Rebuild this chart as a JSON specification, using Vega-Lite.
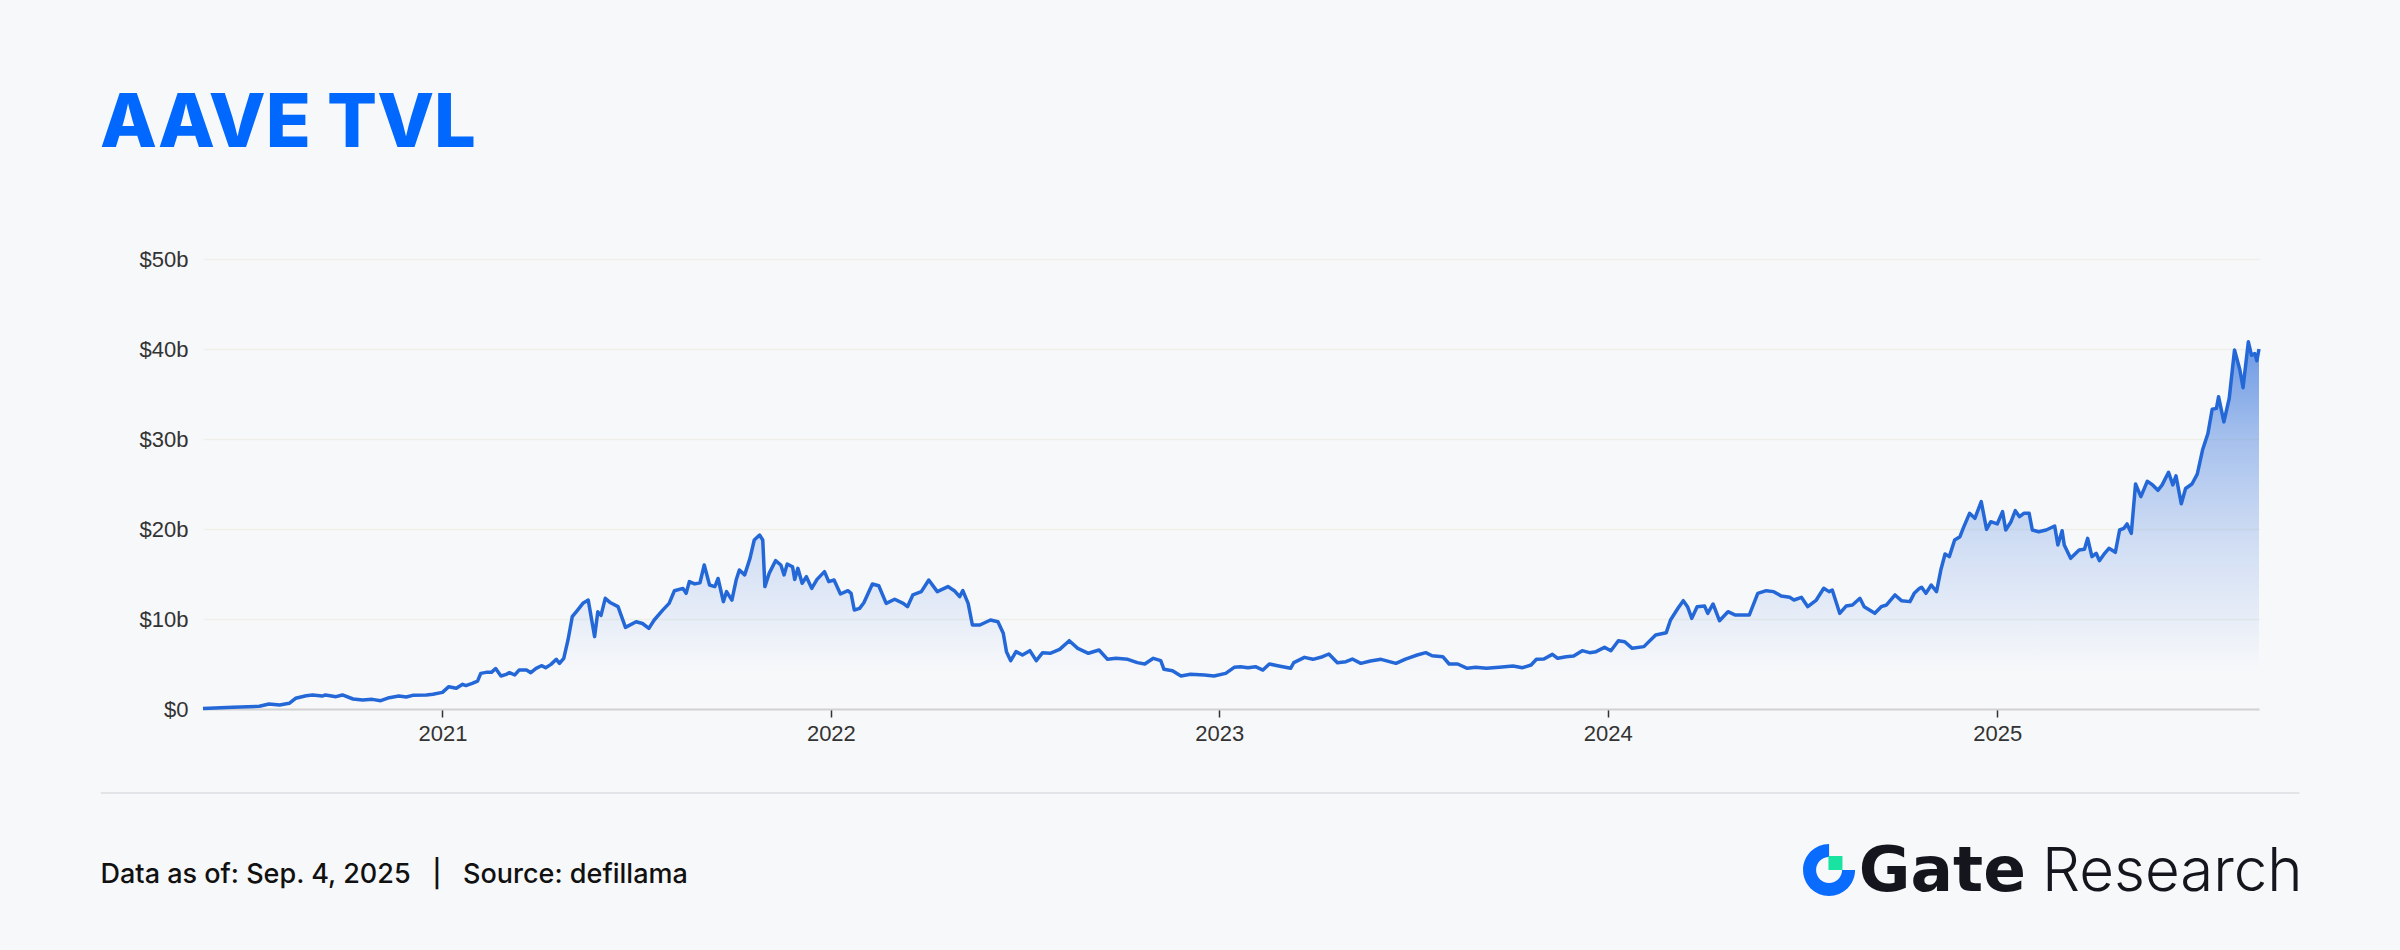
{
  "$schema": "https://vega.github.io/schema/vega-lite/v6.json",
  "width": 2056,
  "height": 450,
  "autosize": {"type": "none"},
  "padding": {"left": 203, "top": 259, "right": 141, "bottom": 241},
  "background": "#F7F8FA",
  "config": {"view": {"stroke": null}, "font": "Inter"},
  "title": {
    "text": "AAVE TVL",
    "anchor": "start",
    "frame": "group",
    "dx": -103,
    "offset": 27,
    "baseline": "alphabetic",
    "font": "Inter",
    "fontSize": 74,
    "fontWeight": 800,
    "color": "#0068FF"
  },
  "data": {
    "values": [
      {"date": "2020-05-21", "tvl": 0.05},
      {"date": "2020-06-18", "tvl": 0.2},
      {"date": "2020-07-13", "tvl": 0.3},
      {"date": "2020-07-22", "tvl": 0.56},
      {"date": "2020-08-01", "tvl": 0.45},
      {"date": "2020-08-10", "tvl": 0.63},
      {"date": "2020-08-16", "tvl": 1.19},
      {"date": "2020-08-26", "tvl": 1.48},
      {"date": "2020-09-01", "tvl": 1.56},
      {"date": "2020-09-10", "tvl": 1.44},
      {"date": "2020-09-13", "tvl": 1.56},
      {"date": "2020-09-23", "tvl": 1.37},
      {"date": "2020-09-29", "tvl": 1.56},
      {"date": "2020-10-09", "tvl": 1.11},
      {"date": "2020-10-18", "tvl": 1.0},
      {"date": "2020-10-27", "tvl": 1.07},
      {"date": "2020-11-04", "tvl": 0.92},
      {"date": "2020-11-12", "tvl": 1.26},
      {"date": "2020-11-21", "tvl": 1.44},
      {"date": "2020-11-28", "tvl": 1.33},
      {"date": "2020-12-04", "tvl": 1.52},
      {"date": "2020-12-17", "tvl": 1.56},
      {"date": "2020-12-23", "tvl": 1.63},
      {"date": "2021-01-01", "tvl": 1.85},
      {"date": "2021-01-07", "tvl": 2.48},
      {"date": "2021-01-14", "tvl": 2.3},
      {"date": "2021-01-20", "tvl": 2.74},
      {"date": "2021-01-23", "tvl": 2.6},
      {"date": "2021-01-29", "tvl": 2.85},
      {"date": "2021-02-03", "tvl": 3.1},
      {"date": "2021-02-06", "tvl": 3.96},
      {"date": "2021-02-11", "tvl": 4.07},
      {"date": "2021-02-16", "tvl": 4.07},
      {"date": "2021-02-20", "tvl": 4.5},
      {"date": "2021-02-25", "tvl": 3.67},
      {"date": "2021-03-02", "tvl": 3.85},
      {"date": "2021-03-05", "tvl": 4.04},
      {"date": "2021-03-10", "tvl": 3.78},
      {"date": "2021-03-14", "tvl": 4.33},
      {"date": "2021-03-21", "tvl": 4.33},
      {"date": "2021-03-25", "tvl": 4.04},
      {"date": "2021-03-30", "tvl": 4.52},
      {"date": "2021-04-04", "tvl": 4.81},
      {"date": "2021-04-08", "tvl": 4.59},
      {"date": "2021-04-13", "tvl": 4.96},
      {"date": "2021-04-18", "tvl": 5.52},
      {"date": "2021-04-21", "tvl": 5.07},
      {"date": "2021-04-25", "tvl": 5.63},
      {"date": "2021-04-29", "tvl": 7.67},
      {"date": "2021-05-03", "tvl": 10.26},
      {"date": "2021-05-08", "tvl": 10.99},
      {"date": "2021-05-13", "tvl": 11.74},
      {"date": "2021-05-18", "tvl": 12.1},
      {"date": "2021-05-24", "tvl": 8.04},
      {"date": "2021-05-27", "tvl": 10.8},
      {"date": "2021-05-30", "tvl": 10.4},
      {"date": "2021-06-03", "tvl": 12.3},
      {"date": "2021-06-08", "tvl": 11.8},
      {"date": "2021-06-15", "tvl": 11.37},
      {"date": "2021-06-22", "tvl": 9.07},
      {"date": "2021-07-02", "tvl": 9.7},
      {"date": "2021-07-08", "tvl": 9.5},
      {"date": "2021-07-14", "tvl": 8.96},
      {"date": "2021-07-19", "tvl": 9.89},
      {"date": "2021-07-27", "tvl": 10.99},
      {"date": "2021-08-02", "tvl": 11.74},
      {"date": "2021-08-07", "tvl": 13.14},
      {"date": "2021-08-15", "tvl": 13.4},
      {"date": "2021-08-18", "tvl": 12.85},
      {"date": "2021-08-21", "tvl": 14.15},
      {"date": "2021-08-26", "tvl": 13.9},
      {"date": "2021-08-31", "tvl": 14.03},
      {"date": "2021-09-04", "tvl": 16.0},
      {"date": "2021-09-09", "tvl": 13.78},
      {"date": "2021-09-14", "tvl": 13.6},
      {"date": "2021-09-17", "tvl": 14.5},
      {"date": "2021-09-22", "tvl": 11.93},
      {"date": "2021-09-25", "tvl": 13.04},
      {"date": "2021-09-30", "tvl": 12.1},
      {"date": "2021-10-04", "tvl": 14.33},
      {"date": "2021-10-07", "tvl": 15.44},
      {"date": "2021-10-12", "tvl": 14.9},
      {"date": "2021-10-17", "tvl": 16.74},
      {"date": "2021-10-21", "tvl": 18.78},
      {"date": "2021-10-26", "tvl": 19.33},
      {"date": "2021-10-29", "tvl": 18.78},
      {"date": "2021-10-31", "tvl": 13.6},
      {"date": "2021-11-04", "tvl": 15.07},
      {"date": "2021-11-10", "tvl": 16.48},
      {"date": "2021-11-15", "tvl": 16.0},
      {"date": "2021-11-18", "tvl": 14.9},
      {"date": "2021-11-21", "tvl": 16.1},
      {"date": "2021-11-26", "tvl": 15.8},
      {"date": "2021-11-28", "tvl": 14.4},
      {"date": "2021-12-01", "tvl": 15.63},
      {"date": "2021-12-05", "tvl": 13.97},
      {"date": "2021-12-09", "tvl": 14.7},
      {"date": "2021-12-14", "tvl": 13.4},
      {"date": "2021-12-19", "tvl": 14.4},
      {"date": "2021-12-26", "tvl": 15.26},
      {"date": "2021-12-30", "tvl": 14.15},
      {"date": "2022-01-04", "tvl": 14.33},
      {"date": "2022-01-10", "tvl": 12.78},
      {"date": "2022-01-17", "tvl": 13.15},
      {"date": "2022-01-20", "tvl": 12.85},
      {"date": "2022-01-23", "tvl": 11.0},
      {"date": "2022-01-28", "tvl": 11.18},
      {"date": "2022-02-01", "tvl": 11.81},
      {"date": "2022-02-09", "tvl": 13.89},
      {"date": "2022-02-15", "tvl": 13.7},
      {"date": "2022-02-22", "tvl": 11.74},
      {"date": "2022-03-02", "tvl": 12.19},
      {"date": "2022-03-10", "tvl": 11.74},
      {"date": "2022-03-14", "tvl": 11.37},
      {"date": "2022-03-19", "tvl": 12.67},
      {"date": "2022-03-27", "tvl": 13.04},
      {"date": "2022-04-03", "tvl": 14.33},
      {"date": "2022-04-11", "tvl": 13.04},
      {"date": "2022-04-21", "tvl": 13.6},
      {"date": "2022-04-27", "tvl": 13.15},
      {"date": "2022-05-02", "tvl": 12.48},
      {"date": "2022-05-05", "tvl": 13.15},
      {"date": "2022-05-10", "tvl": 11.74},
      {"date": "2022-05-14", "tvl": 9.33},
      {"date": "2022-05-21", "tvl": 9.33},
      {"date": "2022-05-31", "tvl": 9.89},
      {"date": "2022-06-07", "tvl": 9.7},
      {"date": "2022-06-12", "tvl": 8.41},
      {"date": "2022-06-15", "tvl": 6.37},
      {"date": "2022-06-19", "tvl": 5.37},
      {"date": "2022-06-24", "tvl": 6.37},
      {"date": "2022-06-30", "tvl": 6.0},
      {"date": "2022-07-07", "tvl": 6.48},
      {"date": "2022-07-13", "tvl": 5.37},
      {"date": "2022-07-19", "tvl": 6.26},
      {"date": "2022-07-26", "tvl": 6.19},
      {"date": "2022-08-04", "tvl": 6.63},
      {"date": "2022-08-13", "tvl": 7.59},
      {"date": "2022-08-21", "tvl": 6.74},
      {"date": "2022-08-31", "tvl": 6.19},
      {"date": "2022-09-10", "tvl": 6.56},
      {"date": "2022-09-18", "tvl": 5.52},
      {"date": "2022-09-26", "tvl": 5.63},
      {"date": "2022-10-07", "tvl": 5.52},
      {"date": "2022-10-16", "tvl": 5.15},
      {"date": "2022-10-23", "tvl": 5.0},
      {"date": "2022-10-31", "tvl": 5.63},
      {"date": "2022-11-07", "tvl": 5.37},
      {"date": "2022-11-10", "tvl": 4.41},
      {"date": "2022-11-18", "tvl": 4.26},
      {"date": "2022-11-26", "tvl": 3.67},
      {"date": "2022-12-05", "tvl": 3.85},
      {"date": "2022-12-18", "tvl": 3.78},
      {"date": "2022-12-27", "tvl": 3.67},
      {"date": "2023-01-07", "tvl": 3.96},
      {"date": "2023-01-15", "tvl": 4.63},
      {"date": "2023-01-21", "tvl": 4.7},
      {"date": "2023-01-28", "tvl": 4.59},
      {"date": "2023-02-04", "tvl": 4.7},
      {"date": "2023-02-11", "tvl": 4.33},
      {"date": "2023-02-17", "tvl": 5.0},
      {"date": "2023-02-26", "tvl": 4.78},
      {"date": "2023-03-09", "tvl": 4.52},
      {"date": "2023-03-12", "tvl": 5.15},
      {"date": "2023-03-22", "tvl": 5.74},
      {"date": "2023-03-30", "tvl": 5.52},
      {"date": "2023-04-08", "tvl": 5.81},
      {"date": "2023-04-14", "tvl": 6.11},
      {"date": "2023-04-22", "tvl": 5.15},
      {"date": "2023-04-30", "tvl": 5.26},
      {"date": "2023-05-06", "tvl": 5.55},
      {"date": "2023-05-14", "tvl": 5.07},
      {"date": "2023-05-23", "tvl": 5.33},
      {"date": "2023-06-02", "tvl": 5.52},
      {"date": "2023-06-16", "tvl": 5.07},
      {"date": "2023-06-25", "tvl": 5.55},
      {"date": "2023-07-06", "tvl": 6.0},
      {"date": "2023-07-14", "tvl": 6.26},
      {"date": "2023-07-20", "tvl": 5.92},
      {"date": "2023-07-30", "tvl": 5.81},
      {"date": "2023-08-05", "tvl": 5.0},
      {"date": "2023-08-13", "tvl": 5.0},
      {"date": "2023-08-22", "tvl": 4.52},
      {"date": "2023-08-30", "tvl": 4.63},
      {"date": "2023-09-09", "tvl": 4.52},
      {"date": "2023-09-21", "tvl": 4.63},
      {"date": "2023-10-04", "tvl": 4.78},
      {"date": "2023-10-13", "tvl": 4.59},
      {"date": "2023-10-21", "tvl": 4.89},
      {"date": "2023-10-26", "tvl": 5.52},
      {"date": "2023-11-02", "tvl": 5.55},
      {"date": "2023-11-10", "tvl": 6.07},
      {"date": "2023-11-15", "tvl": 5.63},
      {"date": "2023-11-23", "tvl": 5.81},
      {"date": "2023-11-30", "tvl": 5.89},
      {"date": "2023-12-08", "tvl": 6.48},
      {"date": "2023-12-15", "tvl": 6.26},
      {"date": "2023-12-21", "tvl": 6.37},
      {"date": "2023-12-29", "tvl": 6.85},
      {"date": "2024-01-04", "tvl": 6.48},
      {"date": "2024-01-11", "tvl": 7.59},
      {"date": "2024-01-17", "tvl": 7.48},
      {"date": "2024-01-24", "tvl": 6.74},
      {"date": "2024-02-04", "tvl": 6.93},
      {"date": "2024-02-15", "tvl": 8.22},
      {"date": "2024-02-25", "tvl": 8.48},
      {"date": "2024-02-29", "tvl": 9.89},
      {"date": "2024-03-07", "tvl": 11.19},
      {"date": "2024-03-12", "tvl": 12.04},
      {"date": "2024-03-16", "tvl": 11.37},
      {"date": "2024-03-20", "tvl": 10.07},
      {"date": "2024-03-25", "tvl": 11.37},
      {"date": "2024-04-01", "tvl": 11.44},
      {"date": "2024-04-04", "tvl": 10.63},
      {"date": "2024-04-09", "tvl": 11.67},
      {"date": "2024-04-15", "tvl": 9.81},
      {"date": "2024-04-23", "tvl": 10.81},
      {"date": "2024-04-30", "tvl": 10.44},
      {"date": "2024-05-13", "tvl": 10.44},
      {"date": "2024-05-21", "tvl": 12.85},
      {"date": "2024-05-29", "tvl": 13.15},
      {"date": "2024-06-05", "tvl": 13.04},
      {"date": "2024-06-12", "tvl": 12.56},
      {"date": "2024-06-20", "tvl": 12.41},
      {"date": "2024-06-24", "tvl": 12.11},
      {"date": "2024-07-01", "tvl": 12.41},
      {"date": "2024-07-07", "tvl": 11.37},
      {"date": "2024-07-15", "tvl": 12.11},
      {"date": "2024-07-22", "tvl": 13.41},
      {"date": "2024-07-27", "tvl": 13.04},
      {"date": "2024-07-30", "tvl": 13.22},
      {"date": "2024-08-06", "tvl": 10.63},
      {"date": "2024-08-12", "tvl": 11.44},
      {"date": "2024-08-18", "tvl": 11.56},
      {"date": "2024-08-25", "tvl": 12.3},
      {"date": "2024-08-29", "tvl": 11.37},
      {"date": "2024-09-08", "tvl": 10.63},
      {"date": "2024-09-14", "tvl": 11.37},
      {"date": "2024-09-19", "tvl": 11.56},
      {"date": "2024-09-27", "tvl": 12.67},
      {"date": "2024-10-03", "tvl": 12.04},
      {"date": "2024-10-11", "tvl": 11.93},
      {"date": "2024-10-15", "tvl": 12.85},
      {"date": "2024-10-20", "tvl": 13.41},
      {"date": "2024-10-22", "tvl": 13.52},
      {"date": "2024-10-26", "tvl": 12.85},
      {"date": "2024-10-31", "tvl": 13.78},
      {"date": "2024-11-05", "tvl": 13.04},
      {"date": "2024-11-09", "tvl": 15.44},
      {"date": "2024-11-13", "tvl": 17.22},
      {"date": "2024-11-17", "tvl": 16.93},
      {"date": "2024-11-22", "tvl": 18.78},
      {"date": "2024-11-27", "tvl": 19.15},
      {"date": "2024-11-30", "tvl": 20.07},
      {"date": "2024-12-06", "tvl": 21.74},
      {"date": "2024-12-11", "tvl": 21.19},
      {"date": "2024-12-17", "tvl": 23.04},
      {"date": "2024-12-22", "tvl": 19.96},
      {"date": "2024-12-26", "tvl": 20.81},
      {"date": "2025-01-01", "tvl": 20.56},
      {"date": "2025-01-06", "tvl": 21.93},
      {"date": "2025-01-09", "tvl": 19.89},
      {"date": "2025-01-14", "tvl": 20.81},
      {"date": "2025-01-18", "tvl": 22.04},
      {"date": "2025-01-22", "tvl": 21.37},
      {"date": "2025-01-26", "tvl": 21.74},
      {"date": "2025-01-31", "tvl": 21.74},
      {"date": "2025-02-03", "tvl": 19.89},
      {"date": "2025-02-09", "tvl": 19.7},
      {"date": "2025-02-16", "tvl": 19.89},
      {"date": "2025-02-24", "tvl": 20.33},
      {"date": "2025-02-27", "tvl": 18.22},
      {"date": "2025-03-03", "tvl": 19.81},
      {"date": "2025-03-05", "tvl": 18.22},
      {"date": "2025-03-11", "tvl": 16.74},
      {"date": "2025-03-19", "tvl": 17.67},
      {"date": "2025-03-24", "tvl": 17.74},
      {"date": "2025-03-27", "tvl": 18.96},
      {"date": "2025-03-31", "tvl": 16.93},
      {"date": "2025-04-04", "tvl": 17.3},
      {"date": "2025-04-07", "tvl": 16.48},
      {"date": "2025-04-12", "tvl": 17.3},
      {"date": "2025-04-16", "tvl": 17.85},
      {"date": "2025-04-22", "tvl": 17.41},
      {"date": "2025-04-26", "tvl": 19.89},
      {"date": "2025-04-30", "tvl": 20.07},
      {"date": "2025-05-03", "tvl": 20.56},
      {"date": "2025-05-07", "tvl": 19.52},
      {"date": "2025-05-11", "tvl": 25.0},
      {"date": "2025-05-16", "tvl": 23.6},
      {"date": "2025-05-22", "tvl": 25.3},
      {"date": "2025-05-27", "tvl": 24.9},
      {"date": "2025-06-01", "tvl": 24.3},
      {"date": "2025-06-05", "tvl": 24.9},
      {"date": "2025-06-11", "tvl": 26.3},
      {"date": "2025-06-15", "tvl": 24.9},
      {"date": "2025-06-18", "tvl": 25.9},
      {"date": "2025-06-23", "tvl": 22.8},
      {"date": "2025-06-27", "tvl": 24.5},
      {"date": "2025-07-03", "tvl": 25.0},
      {"date": "2025-07-08", "tvl": 26.1},
      {"date": "2025-07-13", "tvl": 28.8},
      {"date": "2025-07-18", "tvl": 30.6},
      {"date": "2025-07-22", "tvl": 33.3},
      {"date": "2025-07-26", "tvl": 33.4},
      {"date": "2025-07-28", "tvl": 34.7},
      {"date": "2025-08-02", "tvl": 31.9},
      {"date": "2025-08-07", "tvl": 34.5},
      {"date": "2025-08-12", "tvl": 39.9},
      {"date": "2025-08-17", "tvl": 37.7},
      {"date": "2025-08-20", "tvl": 35.7},
      {"date": "2025-08-25", "tvl": 40.8},
      {"date": "2025-08-28", "tvl": 39.3},
      {"date": "2025-08-31", "tvl": 39.5},
      {"date": "2025-09-02", "tvl": 38.7},
      {"date": "2025-09-04", "tvl": 40.0}
    ]
  },
  "layer": [
    {
      "mark": {
        "type": "area",
        "color": {
          "gradient": "linear",
          "x1": 0, "y1": 0, "x2": 0, "y2": 1,
          "stops": [
            {"offset": 0, "color": "rgba(36,104,216,0.66)"},
            {"offset": 0.27, "color": "rgba(36,104,216,0.38)"},
            {"offset": 0.52, "color": "rgba(36,104,216,0.2)"},
            {"offset": 0.76, "color": "rgba(36,104,216,0.07)"},
            {"offset": 0.9, "color": "rgba(36,104,216,0.0)"}
          ]
        }
      },
      "encoding": {
        "x": {
          "field": "date",
          "type": "temporal",
          "scale": {
            "type": "utc",
            "nice": false,
            "domain": [
              {"year": 2020, "month": 5, "date": 21, "utc": true},
              {"year": 2025, "month": 9, "date": 4, "utc": true}
            ]
          },
          "axis": {
            "format": "%Y",
            "formatType": "utc",
            "tickCount": "year",
            "grid": false,
            "labelFlush": false,
            "domainColor": "#D2D2D2",
            "domainWidth": 2,
            "tickColor": "#333333",
            "tickSize": 8,
            "tickWidth": 1.5,
            "labelFont": "Liberation Sans",
            "labelFontSize": 22,
            "labelColor": "#333333",
            "labelPadding": 6,
            "title": "Data as of: Sep. 4, 2025\u00a0\u00a0\u00a0|\u00a0\u00a0\u00a0Source: defillama",
            "titleX": -103,
            "titleY": 173,
            "titleAlign": "left",
            "titleAnchor": "start",
            "titleBaseline": "alphabetic",
            "titleFont": "Inter",
            "titleFontSize": 27,
            "titleFontWeight": 500,
            "titleColor": "#111111"
          }
        },
        "y": {
          "field": "tvl",
          "type": "quantitative",
          "scale": {"domain": [0, 50], "nice": false},
          "axis": {
            "values": [0, 10, 20, 30, 40, 50],
            "labelExpr": "datum.value == 0 ? '$0' : '$' + datum.value + 'b'",
            "domain": false,
            "ticks": false,
            "grid": true,
            "gridColor": "#EEF0E8",
            "gridWidth": 1.5,
            "labelFont": "Liberation Sans",
            "labelFontSize": 22,
            "labelColor": "#333333",
            "labelPadding": 15,
            "title": null
          }
        }
      }
    },
    {
      "mark": {"type": "line", "color": "#2468D8", "strokeWidth": 3.5, "strokeJoin": "round"},
      "encoding": {
        "x": {"field": "date", "type": "temporal"},
        "y": {"field": "tvl", "type": "quantitative"}
      }
    },
    {
      "data": {"values": [{}]},
      "mark": {"type": "rule", "color": "#E3E4E8", "strokeWidth": 2},
      "encoding": {
        "x": {"datum": {"year": 2020, "month": 2, "date": 15, "utc": true}, "type": "temporal"},
        "x2": {"datum": {"year": 2025, "month": 10, "date": 12, "utc": true}},
        "y": {"datum": -9.33, "type": "quantitative"}
      }
    },
    {
      "data": {"values": [{}]},
      "mark": {
        "type": "point",
        "filled": true,
        "opacity": 1,
        "color": "#0A6CFF",
        "strokeWidth": 0,
        "size": 2704,
        "shape": "M0,-1 A1,1 0 1,0 1,0 L0.5,0 A0.5,0.5 0 1,1 0,-0.5 Z"
      },
      "encoding": {
        "x": {"datum": {"year": 2024, "month": 7, "date": 27, "utc": true}, "type": "temporal"},
        "y": {"datum": -17.89, "type": "quantitative"}
      }
    },
    {
      "data": {"values": [{}]},
      "mark": {"type": "point", "filled": true, "opacity": 1, "color": "#19E3A0", "strokeWidth": 0, "size": 196, "shape": "square"},
      "encoding": {
        "x": {"datum": {"year": 2024, "month": 8, "date": 2, "utc": true}, "type": "temporal"},
        "y": {"datum": -17.11, "type": "quantitative"}
      }
    },
    {
      "data": {"values": [{}]},
      "mark": {"type": "text", "text": "Gate", "font": "DejaVu Sans", "fontWeight": "bold", "fontSize": 63, "align": "left", "baseline": "alphabetic", "color": "#15151E"},
      "encoding": {
        "x": {"datum": {"year": 2024, "month": 8, "date": 24, "utc": true}, "type": "temporal"},
        "y": {"datum": -20.22, "type": "quantitative"}
      }
    },
    {
      "data": {"values": [{}]},
      "mark": {"type": "text", "text": "Research", "font": "Inter", "fontWeight": 300, "fontSize": 60, "align": "left", "baseline": "alphabetic", "color": "#15151E"},
      "encoding": {
        "x": {"datum": {"year": 2025, "month": 2, "date": 12, "utc": true}, "type": "temporal"},
        "y": {"datum": -20.22, "type": "quantitative"}
      }
    }
  ]
}
